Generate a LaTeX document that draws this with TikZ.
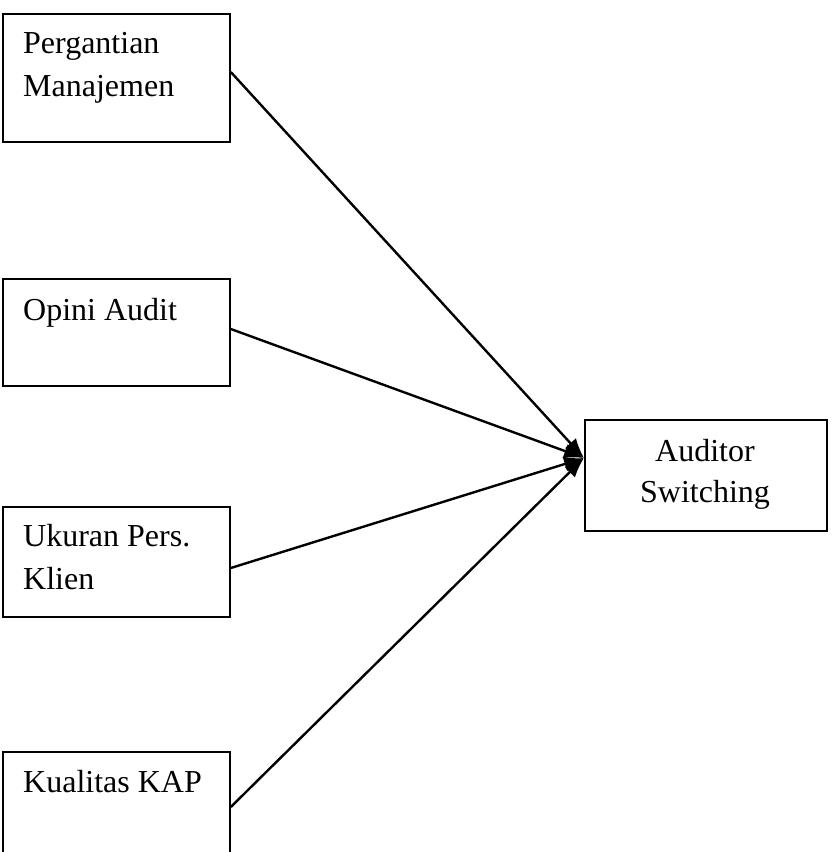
\documentclass[tikz,border=0pt]{standalone}
\usepackage{fontspec}
\setmainfont{Liberation Serif}
\usetikzlibrary{arrows.meta}
\begin{document}
\begin{tikzpicture}[x=1pt,y=-1pt,
  box/.style={draw,line width=1.8pt,inner sep=0pt,anchor=north west},
  lbl/.style={anchor=base west,inner sep=0pt,font=\fontsize{32}{43}\selectfont,align=left},
  clbl/.style={anchor=base,inner sep=0pt,font=\fontsize{32}{43}\selectfont,align=center},
  conn/.style={line width=2.4pt,-{Latex[length=20pt,width=15pt]}}]
\useasboundingbox (0,0) rectangle (832,852);
\fill[white] (0,0) rectangle (832,852);
\clip (0,0) rectangle (832,852);
% left boxes
\node[box,minimum width=227pt,minimum height=128pt] (b1) at (2,13) {};
\node[box,minimum width=227pt,minimum height=107pt] (b2) at (2,278) {};
\node[box,minimum width=227pt,minimum height=110pt] (b3) at (2,506) {};
\node[box,minimum width=227pt,minimum height=112pt] (b4) at (2,751) {};
% right box
\node[box,minimum width=242pt,minimum height=111pt] (out) at (584,419) {};
% texts
\node[lbl] (t1a) at (23,53) {Pergantian};
\node[lbl] (t1b) at (23,96) {Manajemen};
\node[lbl] (t2) at (23,320) {Opini Audit};
\node[lbl] (t3a) at (23,546) {Ukuran Pers.};
\node[lbl] (t3b) at (23,589) {Klien};
\node[lbl] (t4) at (23,792) {Kualitas KAP};
\node[clbl] (ta) at (705,461) {Auditor};
\node[clbl] (tb) at (705,502) {Switching};
% target
\coordinate (tip) at (584,458);
\draw[conn] (b1.east |- 0,72) -- (tip);
\draw[conn] (b2.east |- 0,329) -- (tip);
\draw[conn] (b3.east |- 0,568) -- (tip);
\draw[conn] (b4.east |- 0,807) -- (tip);
\end{tikzpicture}
\end{document}
